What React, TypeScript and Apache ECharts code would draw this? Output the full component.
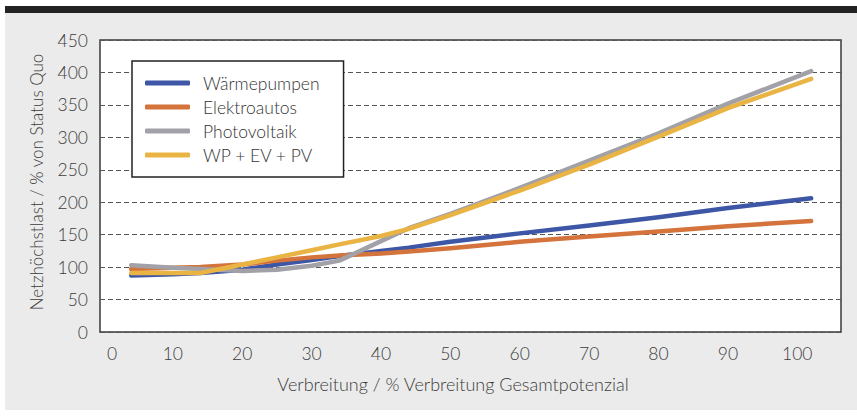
import React, { useEffect, useRef } from "react";
import * as echarts from "echarts";

const xValues = [4, 10, 14, 20, 25, 30, 34, 40, 44, 50, 60, 70, 80, 90, 102];
const waermepumpen = [87, 89, 91, 96, 104, 111, 117, 125, 130, 139, 152, 164, 177, 191, 206];
const elektroautos = [97, 99, 100, 104, 110, 115, 118, 121, 124, 129, 139, 147, 155, 163, 171];
const photovoltaik = [103, 99, 97, 94, 96, 102, 110, 140, 160, 182, 222, 264, 306, 352, 402];
const kombiniert = [91, 91, 91, 104, 115, 126, 135, 148, 159, 180, 218, 258, 301, 345, 390];
const seriesNames = ["Wärmepumpen", "Elektroautos", "Photovoltaik", "WP + EV + PV"];
const seriesColors = ["#3d57a6", "#d4733b", "#a2a1a8", "#e9b444"];
const xTicks = [0, 10, 20, 30, 40, 50, 60, 70, 80, 90, 100];
const yAxisTitle = "Netzhöchstlast / % von Status Quo";
const xAxisTitle = "Verbreitung / % Verbreitung Gesamtpotenzial";

const FONT = "Lato";
const TXT = "#3c3c3c";

export default function App() {
  const ref = useRef<HTMLDivElement>(null);
  useEffect(() => {
    document.body.style.margin = "0";
    const chart = echarts.init(ref.current!, null, { renderer: "svg" });
    const allData = [waermepumpen, elektroautos, photovoltaik, kombiniert];
    const drawOrder = [0, 1, 3, 2];
    chart.setOption({
      animation: false,
      backgroundColor: "#ffffff",
      textStyle: { fontFamily: FONT, fontWeight: 300 },
      graphic: [
        { type: "rect", z: -100, silent: true, shape: { x: 5, y: 13, width: 852, height: 397 }, style: { fill: "#ebebeb" } },
        { type: "rect", z: -99, silent: true, shape: { x: 5, y: 6, width: 852, height: 7 }, style: { fill: "#232323" } },
      ],
      grid: {
        left: 100,
        top: 40,
        right: 16,
        bottom: 85,
        show: true,
        backgroundColor: "#ffffff",
        borderColor: "#3a3a3a",
        borderWidth: 1.5,
      },
      legend: {
        orient: "vertical",
        left: 132,
        top: 61,
        backgroundColor: "#ffffff",
        borderColor: "#222222",
        borderWidth: 1.5,
        borderRadius: 0,
        padding: [12, 24, 12, 13],
        itemGap: 4,
        itemWidth: 45,
        itemHeight: 5,
        icon: "roundRect",
        data: seriesNames,
        textStyle: { fontFamily: FONT, fontWeight: 300, fontSize: 17.5, color: "#333333", lineHeight: 20, padding: [0, 0, 0, 8] },
      },
      xAxis: {
        type: "value",
        min: -0.5,
        max: 106.3,
        axisLine: { show: false },
        axisTick: { show: false },
        splitLine: { show: false },
        axisLabel: {
          customValues: xTicks,
          margin: 12,
          fontSize: 17.5,
          fontWeight: 300,
          color: TXT,
          fontFamily: FONT,
          formatter: (v: number) => (v === 0 ? "{z|0}" : String(v)),
          rich: { z: { padding: [0, 0, 0, 17], fontSize: 17.5, fontWeight: 300, color: TXT, fontFamily: FONT } },
        },
        name: xAxisTitle,
        nameLocation: "middle",
        nameGap: 43,
        nameTextStyle: { fontSize: 18, fontWeight: 300, color: TXT, fontFamily: FONT, padding: [0, 35, 0, 0] },
      },
      yAxis: {
        type: "value",
        min: 0,
        max: 450,
        interval: 50,
        axisLine: { show: false },
        axisTick: { show: false },
        axisLabel: { margin: 12, fontSize: 17.5, fontWeight: 300, color: TXT, fontFamily: FONT },
        splitLine: { show: true, lineStyle: { color: "#555555", type: [5, 3], width: 1.2 } },
        name: yAxisTitle,
        nameLocation: "middle",
        nameGap: 55,
        nameTextStyle: { fontSize: 17, fontWeight: 300, color: TXT, fontFamily: FONT, padding: [0, 0, 0, 8] },
      },
      series: drawOrder.map((i) => ({
        name: seriesNames[i],
        type: "line",
        showSymbol: false,
        symbol: "none",
        color: seriesColors[i],
        lineStyle: { width: 4.5, color: seriesColors[i], cap: "round", join: "round" },
        data: xValues.map((x, k) => [x, allData[i][k]]),
        z: 3 + i,
      })),
    });
    return () => chart.dispose();
  }, []);
  return <div ref={ref} style={{ width: 857, height: 417 }} />;
}
